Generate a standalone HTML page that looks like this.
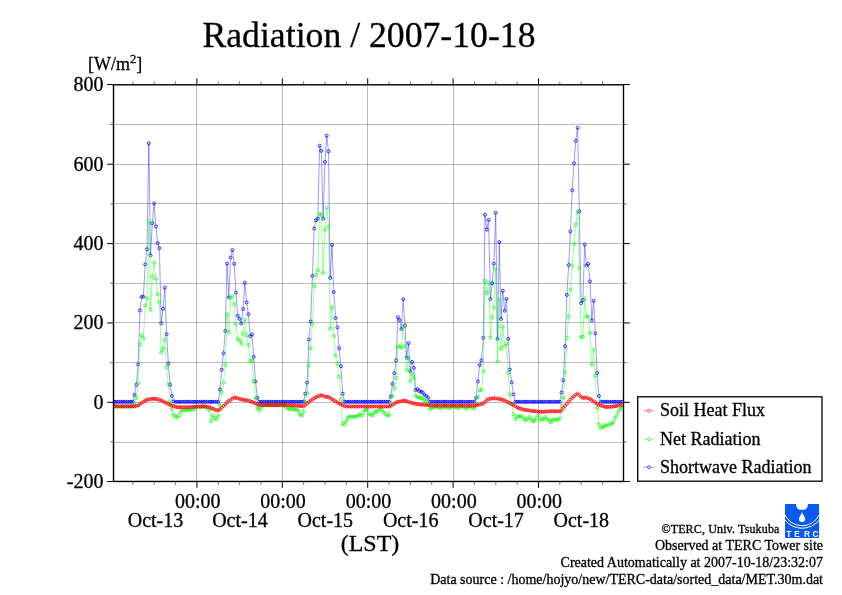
<!DOCTYPE html>
<html><head><meta charset="utf-8"><title>Radiation / 2007-10-18</title>
<style>html,body{margin:0;padding:0;background:#fff}svg{display:block}text{font-family:"Liberation Serif","Times New Roman",serif;fill:#000;stroke:#000;stroke-width:0.3px}</style></head><body>
<svg width="842" height="595" viewBox="0 0 842 595">
<rect width="842" height="595" fill="#fff"/>
<g fill="#000" fill-opacity="0.27" shape-rendering="crispEdges">
<rect x="196" y="84.8" width="1" height="396.65"/>
<rect x="282" y="84.8" width="1" height="396.65"/>
<rect x="367" y="84.8" width="1" height="396.65"/>
<rect x="453" y="84.8" width="1" height="396.65"/>
<rect x="538" y="84.8" width="1" height="396.65"/>
<rect x="113.5" y="124" width="510.0" height="1"/>
<rect x="113.5" y="164" width="510.0" height="1"/>
<rect x="113.5" y="203" width="510.0" height="1"/>
<rect x="113.5" y="243" width="510.0" height="1"/>
<rect x="113.5" y="283" width="510.0" height="1"/>
<rect x="113.5" y="322" width="510.0" height="1"/>
<rect x="113.5" y="362" width="510.0" height="1"/>
<rect x="113.5" y="402" width="510.0" height="1"/>
<rect x="113.5" y="442" width="510.0" height="1"/>
</g>
<clipPath id="pc"><rect x="113.5" y="84.8" width="510.0" height="396.65"/></clipPath><g clip-path="url(#pc)">
<g stroke="#0000ff" fill="none"><polyline points="111.4,401.8 113.2,401.8 115.0,401.8 116.7,401.8 118.5,401.8 120.3,401.8 122.1,401.8 123.9,401.8 125.6,401.8 127.4,401.8 129.2,401.8 131.0,401.8 132.8,401.8 134.5,395.0 136.3,384.8 138.1,364.4 139.9,310.5 141.6,296.8 143.4,296.8 145.2,264.4 147.0,249.3 148.8,143.2 150.5,255.2 152.3,223.2 154.1,203.4 155.9,226.5 157.7,243.2 159.4,248.1 161.2,323.4 163.0,308.8 164.8,287.6 166.6,334.2 168.3,363.4 170.1,384.6 171.9,395.9 173.7,401.3 175.5,401.8 177.2,401.8 179.0,401.8 180.8,401.8 182.6,401.8 184.3,401.8 186.1,401.8 187.9,401.8 189.7,401.8 191.5,401.8 193.2,401.8 195.0,401.8 196.8,401.8 198.6,401.8 200.4,401.8 202.1,401.8 203.9,401.8 205.7,401.8 207.5,401.8 209.3,401.8 211.0,401.8 212.8,401.8 214.6,401.8 216.4,401.8 218.2,401.8 219.9,389.5 221.7,369.7 223.5,353.2 225.3,330.9 227.0,263.5 228.8,297.5 230.6,257.5 232.4,250.0 234.2,263.8 235.9,292.5 237.7,315.6 239.5,318.9 241.3,323.6 243.1,309.0 244.8,282.7 246.6,302.4 248.4,314.2 250.2,336.1 252.0,334.4 253.7,356.8 255.5,381.5 257.3,397.9 259.1,401.8 260.9,401.8 262.6,401.8 264.4,401.8 266.2,401.8 268.0,401.8 269.7,401.8 271.5,401.8 273.3,401.8 275.1,401.8 276.9,401.8 278.6,401.8 280.4,401.8 282.2,401.8 284.0,401.8 285.8,401.8 287.5,401.8 289.3,401.8 291.1,401.8 292.9,401.8 294.7,401.8 296.4,401.8 298.2,401.8 300.0,401.8 301.8,401.8 303.6,401.8 305.3,393.7 307.1,382.6 308.9,339.6 310.7,321.5 312.4,276.1 314.2,228.5 316.0,220.2 317.8,218.6 319.6,145.7 321.3,150.9 323.1,218.6 324.9,161.9 326.7,135.6 328.5,151.3 330.2,278.0 332.0,244.9 333.8,292.1 335.6,318.0 337.4,327.4 339.1,348.3 340.9,366.2 342.7,393.7 344.5,401.8 346.3,401.8 348.0,401.8 349.8,401.8 351.6,401.8 353.4,401.8 355.2,401.8 356.9,401.8 358.7,401.8 360.5,401.8 362.3,401.8 364.0,401.8 365.8,401.8 367.6,401.8 369.4,401.8 371.2,401.8 372.9,401.8 374.7,401.8 376.5,401.8 378.3,401.8 380.1,401.8 381.8,401.8 383.6,401.8 385.4,401.8 387.2,401.8 389.0,401.8 390.7,396.5 392.5,383.8 394.3,373.2 396.1,360.3 397.9,317.3 399.6,320.1 401.4,329.0 403.2,299.2 405.0,325.5 406.7,357.7 408.5,343.1 410.3,371.3 412.1,361.9 413.9,367.8 415.6,390.2 417.4,389.0 419.2,391.0 421.0,391.8 422.8,392.5 424.5,394.9 426.3,396.0 428.1,397.7 429.9,401.8 431.7,401.8 433.4,401.8 435.2,401.8 437.0,401.8 438.8,401.8 440.6,401.8 442.3,401.8 444.1,401.8 445.9,401.8 447.7,401.8 449.4,401.8 451.2,401.8 453.0,401.8 454.8,401.8 456.6,401.8 458.3,401.8 460.1,401.8 461.9,401.8 463.7,401.8 465.5,401.8 467.2,401.8 469.0,401.8 470.8,401.8 472.6,401.8 474.4,401.8 476.1,397.7 477.9,381.5 479.7,365.0 481.5,360.3 483.3,337.7 485.0,214.8 486.8,229.6 488.6,219.8 490.4,299.2 492.1,283.2 493.9,263.6 495.7,212.7 497.5,338.9 499.3,242.1 501.0,318.9 502.8,290.7 504.6,310.7 506.4,298.9 508.2,338.9 509.9,369.5 511.7,382.4 513.5,394.4 515.3,401.8 517.1,401.8 518.8,401.8 520.6,401.8 522.4,401.8 524.2,401.8 526.0,401.8 527.7,401.8 529.5,401.8 531.3,401.8 533.1,401.8 534.8,401.8 536.6,401.8 538.4,401.8 540.2,401.8 542.0,401.8 543.7,401.8 545.5,401.8 547.3,401.8 549.1,401.8 550.9,401.8 552.6,401.8 554.4,401.8 556.2,401.8 558.0,401.8 559.8,401.8 561.5,392.5 563.3,380.3 565.1,346.2 566.9,294.9 568.7,265.0 570.4,231.5 572.2,190.4 574.0,163.3 575.8,140.8 577.6,127.8 579.3,211.3 581.1,303.2 582.9,300.1 584.7,244.5 586.4,265.5 588.2,263.9 590.0,281.3 591.8,320.3 593.6,300.8 595.3,333.3 597.1,373.2 598.9,396.0 600.7,401.8 602.5,401.8 604.2,401.8 606.0,401.8 607.8,401.8 609.6,401.8 611.4,401.8 613.1,401.8 614.9,401.8 616.7,401.8 618.5,401.8 620.3,401.8 622.0,401.8" stroke-width="0.4"/>
<g stroke-width="0.75"><circle cx="111.4" cy="401.8" r="1.5"/><circle cx="113.2" cy="401.8" r="1.5"/><circle cx="115.0" cy="401.8" r="1.5"/><circle cx="116.7" cy="401.8" r="1.5"/><circle cx="118.5" cy="401.8" r="1.5"/><circle cx="120.3" cy="401.8" r="1.5"/><circle cx="122.1" cy="401.8" r="1.5"/><circle cx="123.9" cy="401.8" r="1.5"/><circle cx="125.6" cy="401.8" r="1.5"/><circle cx="127.4" cy="401.8" r="1.5"/><circle cx="129.2" cy="401.8" r="1.5"/><circle cx="131.0" cy="401.8" r="1.5"/><circle cx="132.8" cy="401.8" r="1.5"/><circle cx="134.5" cy="395.0" r="1.5"/><circle cx="136.3" cy="384.8" r="1.5"/><circle cx="138.1" cy="364.4" r="1.5"/><circle cx="139.9" cy="310.5" r="1.5"/><circle cx="141.6" cy="296.8" r="1.5"/><circle cx="143.4" cy="296.8" r="1.5"/><circle cx="145.2" cy="264.4" r="1.5"/><circle cx="147.0" cy="249.3" r="1.5"/><circle cx="148.8" cy="143.2" r="1.5"/><circle cx="150.5" cy="255.2" r="1.5"/><circle cx="152.3" cy="223.2" r="1.5"/><circle cx="154.1" cy="203.4" r="1.5"/><circle cx="155.9" cy="226.5" r="1.5"/><circle cx="157.7" cy="243.2" r="1.5"/><circle cx="159.4" cy="248.1" r="1.5"/><circle cx="161.2" cy="323.4" r="1.5"/><circle cx="163.0" cy="308.8" r="1.5"/><circle cx="164.8" cy="287.6" r="1.5"/><circle cx="166.6" cy="334.2" r="1.5"/><circle cx="168.3" cy="363.4" r="1.5"/><circle cx="170.1" cy="384.6" r="1.5"/><circle cx="171.9" cy="395.9" r="1.5"/><circle cx="173.7" cy="401.3" r="1.5"/><circle cx="175.5" cy="401.8" r="1.5"/><circle cx="177.2" cy="401.8" r="1.5"/><circle cx="179.0" cy="401.8" r="1.5"/><circle cx="180.8" cy="401.8" r="1.5"/><circle cx="182.6" cy="401.8" r="1.5"/><circle cx="184.3" cy="401.8" r="1.5"/><circle cx="186.1" cy="401.8" r="1.5"/><circle cx="187.9" cy="401.8" r="1.5"/><circle cx="189.7" cy="401.8" r="1.5"/><circle cx="191.5" cy="401.8" r="1.5"/><circle cx="193.2" cy="401.8" r="1.5"/><circle cx="195.0" cy="401.8" r="1.5"/><circle cx="196.8" cy="401.8" r="1.5"/><circle cx="198.6" cy="401.8" r="1.5"/><circle cx="200.4" cy="401.8" r="1.5"/><circle cx="202.1" cy="401.8" r="1.5"/><circle cx="203.9" cy="401.8" r="1.5"/><circle cx="205.7" cy="401.8" r="1.5"/><circle cx="207.5" cy="401.8" r="1.5"/><circle cx="209.3" cy="401.8" r="1.5"/><circle cx="211.0" cy="401.8" r="1.5"/><circle cx="212.8" cy="401.8" r="1.5"/><circle cx="214.6" cy="401.8" r="1.5"/><circle cx="216.4" cy="401.8" r="1.5"/><circle cx="218.2" cy="401.8" r="1.5"/><circle cx="219.9" cy="389.5" r="1.5"/><circle cx="221.7" cy="369.7" r="1.5"/><circle cx="223.5" cy="353.2" r="1.5"/><circle cx="225.3" cy="330.9" r="1.5"/><circle cx="227.0" cy="263.5" r="1.5"/><circle cx="228.8" cy="297.5" r="1.5"/><circle cx="230.6" cy="257.5" r="1.5"/><circle cx="232.4" cy="250.0" r="1.5"/><circle cx="234.2" cy="263.8" r="1.5"/><circle cx="235.9" cy="292.5" r="1.5"/><circle cx="237.7" cy="315.6" r="1.5"/><circle cx="239.5" cy="318.9" r="1.5"/><circle cx="241.3" cy="323.6" r="1.5"/><circle cx="243.1" cy="309.0" r="1.5"/><circle cx="244.8" cy="282.7" r="1.5"/><circle cx="246.6" cy="302.4" r="1.5"/><circle cx="248.4" cy="314.2" r="1.5"/><circle cx="250.2" cy="336.1" r="1.5"/><circle cx="252.0" cy="334.4" r="1.5"/><circle cx="253.7" cy="356.8" r="1.5"/><circle cx="255.5" cy="381.5" r="1.5"/><circle cx="257.3" cy="397.9" r="1.5"/><circle cx="259.1" cy="401.8" r="1.5"/><circle cx="260.9" cy="401.8" r="1.5"/><circle cx="262.6" cy="401.8" r="1.5"/><circle cx="264.4" cy="401.8" r="1.5"/><circle cx="266.2" cy="401.8" r="1.5"/><circle cx="268.0" cy="401.8" r="1.5"/><circle cx="269.7" cy="401.8" r="1.5"/><circle cx="271.5" cy="401.8" r="1.5"/><circle cx="273.3" cy="401.8" r="1.5"/><circle cx="275.1" cy="401.8" r="1.5"/><circle cx="276.9" cy="401.8" r="1.5"/><circle cx="278.6" cy="401.8" r="1.5"/><circle cx="280.4" cy="401.8" r="1.5"/><circle cx="282.2" cy="401.8" r="1.5"/><circle cx="284.0" cy="401.8" r="1.5"/><circle cx="285.8" cy="401.8" r="1.5"/><circle cx="287.5" cy="401.8" r="1.5"/><circle cx="289.3" cy="401.8" r="1.5"/><circle cx="291.1" cy="401.8" r="1.5"/><circle cx="292.9" cy="401.8" r="1.5"/><circle cx="294.7" cy="401.8" r="1.5"/><circle cx="296.4" cy="401.8" r="1.5"/><circle cx="298.2" cy="401.8" r="1.5"/><circle cx="300.0" cy="401.8" r="1.5"/><circle cx="301.8" cy="401.8" r="1.5"/><circle cx="303.6" cy="401.8" r="1.5"/><circle cx="305.3" cy="393.7" r="1.5"/><circle cx="307.1" cy="382.6" r="1.5"/><circle cx="308.9" cy="339.6" r="1.5"/><circle cx="310.7" cy="321.5" r="1.5"/><circle cx="312.4" cy="276.1" r="1.5"/><circle cx="314.2" cy="228.5" r="1.5"/><circle cx="316.0" cy="220.2" r="1.5"/><circle cx="317.8" cy="218.6" r="1.5"/><circle cx="319.6" cy="145.7" r="1.5"/><circle cx="321.3" cy="150.9" r="1.5"/><circle cx="323.1" cy="218.6" r="1.5"/><circle cx="324.9" cy="161.9" r="1.5"/><circle cx="326.7" cy="135.6" r="1.5"/><circle cx="328.5" cy="151.3" r="1.5"/><circle cx="330.2" cy="278.0" r="1.5"/><circle cx="332.0" cy="244.9" r="1.5"/><circle cx="333.8" cy="292.1" r="1.5"/><circle cx="335.6" cy="318.0" r="1.5"/><circle cx="337.4" cy="327.4" r="1.5"/><circle cx="339.1" cy="348.3" r="1.5"/><circle cx="340.9" cy="366.2" r="1.5"/><circle cx="342.7" cy="393.7" r="1.5"/><circle cx="344.5" cy="401.8" r="1.5"/><circle cx="346.3" cy="401.8" r="1.5"/><circle cx="348.0" cy="401.8" r="1.5"/><circle cx="349.8" cy="401.8" r="1.5"/><circle cx="351.6" cy="401.8" r="1.5"/><circle cx="353.4" cy="401.8" r="1.5"/><circle cx="355.2" cy="401.8" r="1.5"/><circle cx="356.9" cy="401.8" r="1.5"/><circle cx="358.7" cy="401.8" r="1.5"/><circle cx="360.5" cy="401.8" r="1.5"/><circle cx="362.3" cy="401.8" r="1.5"/><circle cx="364.0" cy="401.8" r="1.5"/><circle cx="365.8" cy="401.8" r="1.5"/><circle cx="367.6" cy="401.8" r="1.5"/><circle cx="369.4" cy="401.8" r="1.5"/><circle cx="371.2" cy="401.8" r="1.5"/><circle cx="372.9" cy="401.8" r="1.5"/><circle cx="374.7" cy="401.8" r="1.5"/><circle cx="376.5" cy="401.8" r="1.5"/><circle cx="378.3" cy="401.8" r="1.5"/><circle cx="380.1" cy="401.8" r="1.5"/><circle cx="381.8" cy="401.8" r="1.5"/><circle cx="383.6" cy="401.8" r="1.5"/><circle cx="385.4" cy="401.8" r="1.5"/><circle cx="387.2" cy="401.8" r="1.5"/><circle cx="389.0" cy="401.8" r="1.5"/><circle cx="390.7" cy="396.5" r="1.5"/><circle cx="392.5" cy="383.8" r="1.5"/><circle cx="394.3" cy="373.2" r="1.5"/><circle cx="396.1" cy="360.3" r="1.5"/><circle cx="397.9" cy="317.3" r="1.5"/><circle cx="399.6" cy="320.1" r="1.5"/><circle cx="401.4" cy="329.0" r="1.5"/><circle cx="403.2" cy="299.2" r="1.5"/><circle cx="405.0" cy="325.5" r="1.5"/><circle cx="406.7" cy="357.7" r="1.5"/><circle cx="408.5" cy="343.1" r="1.5"/><circle cx="410.3" cy="371.3" r="1.5"/><circle cx="412.1" cy="361.9" r="1.5"/><circle cx="413.9" cy="367.8" r="1.5"/><circle cx="415.6" cy="390.2" r="1.5"/><circle cx="417.4" cy="389.0" r="1.5"/><circle cx="419.2" cy="391.0" r="1.5"/><circle cx="421.0" cy="391.8" r="1.5"/><circle cx="422.8" cy="392.5" r="1.5"/><circle cx="424.5" cy="394.9" r="1.5"/><circle cx="426.3" cy="396.0" r="1.5"/><circle cx="428.1" cy="397.7" r="1.5"/><circle cx="429.9" cy="401.8" r="1.5"/><circle cx="431.7" cy="401.8" r="1.5"/><circle cx="433.4" cy="401.8" r="1.5"/><circle cx="435.2" cy="401.8" r="1.5"/><circle cx="437.0" cy="401.8" r="1.5"/><circle cx="438.8" cy="401.8" r="1.5"/><circle cx="440.6" cy="401.8" r="1.5"/><circle cx="442.3" cy="401.8" r="1.5"/><circle cx="444.1" cy="401.8" r="1.5"/><circle cx="445.9" cy="401.8" r="1.5"/><circle cx="447.7" cy="401.8" r="1.5"/><circle cx="449.4" cy="401.8" r="1.5"/><circle cx="451.2" cy="401.8" r="1.5"/><circle cx="453.0" cy="401.8" r="1.5"/><circle cx="454.8" cy="401.8" r="1.5"/><circle cx="456.6" cy="401.8" r="1.5"/><circle cx="458.3" cy="401.8" r="1.5"/><circle cx="460.1" cy="401.8" r="1.5"/><circle cx="461.9" cy="401.8" r="1.5"/><circle cx="463.7" cy="401.8" r="1.5"/><circle cx="465.5" cy="401.8" r="1.5"/><circle cx="467.2" cy="401.8" r="1.5"/><circle cx="469.0" cy="401.8" r="1.5"/><circle cx="470.8" cy="401.8" r="1.5"/><circle cx="472.6" cy="401.8" r="1.5"/><circle cx="474.4" cy="401.8" r="1.5"/><circle cx="476.1" cy="397.7" r="1.5"/><circle cx="477.9" cy="381.5" r="1.5"/><circle cx="479.7" cy="365.0" r="1.5"/><circle cx="481.5" cy="360.3" r="1.5"/><circle cx="483.3" cy="337.7" r="1.5"/><circle cx="485.0" cy="214.8" r="1.5"/><circle cx="486.8" cy="229.6" r="1.5"/><circle cx="488.6" cy="219.8" r="1.5"/><circle cx="490.4" cy="299.2" r="1.5"/><circle cx="492.1" cy="283.2" r="1.5"/><circle cx="493.9" cy="263.6" r="1.5"/><circle cx="495.7" cy="212.7" r="1.5"/><circle cx="497.5" cy="338.9" r="1.5"/><circle cx="499.3" cy="242.1" r="1.5"/><circle cx="501.0" cy="318.9" r="1.5"/><circle cx="502.8" cy="290.7" r="1.5"/><circle cx="504.6" cy="310.7" r="1.5"/><circle cx="506.4" cy="298.9" r="1.5"/><circle cx="508.2" cy="338.9" r="1.5"/><circle cx="509.9" cy="369.5" r="1.5"/><circle cx="511.7" cy="382.4" r="1.5"/><circle cx="513.5" cy="394.4" r="1.5"/><circle cx="515.3" cy="401.8" r="1.5"/><circle cx="517.1" cy="401.8" r="1.5"/><circle cx="518.8" cy="401.8" r="1.5"/><circle cx="520.6" cy="401.8" r="1.5"/><circle cx="522.4" cy="401.8" r="1.5"/><circle cx="524.2" cy="401.8" r="1.5"/><circle cx="526.0" cy="401.8" r="1.5"/><circle cx="527.7" cy="401.8" r="1.5"/><circle cx="529.5" cy="401.8" r="1.5"/><circle cx="531.3" cy="401.8" r="1.5"/><circle cx="533.1" cy="401.8" r="1.5"/><circle cx="534.8" cy="401.8" r="1.5"/><circle cx="536.6" cy="401.8" r="1.5"/><circle cx="538.4" cy="401.8" r="1.5"/><circle cx="540.2" cy="401.8" r="1.5"/><circle cx="542.0" cy="401.8" r="1.5"/><circle cx="543.7" cy="401.8" r="1.5"/><circle cx="545.5" cy="401.8" r="1.5"/><circle cx="547.3" cy="401.8" r="1.5"/><circle cx="549.1" cy="401.8" r="1.5"/><circle cx="550.9" cy="401.8" r="1.5"/><circle cx="552.6" cy="401.8" r="1.5"/><circle cx="554.4" cy="401.8" r="1.5"/><circle cx="556.2" cy="401.8" r="1.5"/><circle cx="558.0" cy="401.8" r="1.5"/><circle cx="559.8" cy="401.8" r="1.5"/><circle cx="561.5" cy="392.5" r="1.5"/><circle cx="563.3" cy="380.3" r="1.5"/><circle cx="565.1" cy="346.2" r="1.5"/><circle cx="566.9" cy="294.9" r="1.5"/><circle cx="568.7" cy="265.0" r="1.5"/><circle cx="570.4" cy="231.5" r="1.5"/><circle cx="572.2" cy="190.4" r="1.5"/><circle cx="574.0" cy="163.3" r="1.5"/><circle cx="575.8" cy="140.8" r="1.5"/><circle cx="577.6" cy="127.8" r="1.5"/><circle cx="579.3" cy="211.3" r="1.5"/><circle cx="581.1" cy="303.2" r="1.5"/><circle cx="582.9" cy="300.1" r="1.5"/><circle cx="584.7" cy="244.5" r="1.5"/><circle cx="586.4" cy="265.5" r="1.5"/><circle cx="588.2" cy="263.9" r="1.5"/><circle cx="590.0" cy="281.3" r="1.5"/><circle cx="591.8" cy="320.3" r="1.5"/><circle cx="593.6" cy="300.8" r="1.5"/><circle cx="595.3" cy="333.3" r="1.5"/><circle cx="597.1" cy="373.2" r="1.5"/><circle cx="598.9" cy="396.0" r="1.5"/><circle cx="600.7" cy="401.8" r="1.5"/><circle cx="602.5" cy="401.8" r="1.5"/><circle cx="604.2" cy="401.8" r="1.5"/><circle cx="606.0" cy="401.8" r="1.5"/><circle cx="607.8" cy="401.8" r="1.5"/><circle cx="609.6" cy="401.8" r="1.5"/><circle cx="611.4" cy="401.8" r="1.5"/><circle cx="613.1" cy="401.8" r="1.5"/><circle cx="614.9" cy="401.8" r="1.5"/><circle cx="616.7" cy="401.8" r="1.5"/><circle cx="618.5" cy="401.8" r="1.5"/><circle cx="620.3" cy="401.8" r="1.5"/><circle cx="622.0" cy="401.8" r="1.5"/></g></g>
<g stroke="#00ff00" fill="none"><polyline points="111.4,406.6 113.2,406.6 115.0,406.6 116.7,406.6 118.5,406.6 120.3,406.6 122.1,406.6 123.9,406.6 125.6,406.6 127.4,406.6 129.2,406.6 131.0,406.6 132.8,406.6 134.5,404.0 136.3,397.8 138.1,383.2 139.9,344.4 141.6,335.2 143.4,338.7 145.2,305.3 147.0,298.5 148.8,221.3 150.5,309.5 152.3,276.6 154.1,262.5 155.9,278.9 157.7,294.2 159.4,302.0 161.2,352.4 163.0,348.8 164.8,339.6 166.6,367.2 168.3,384.6 170.1,401.3 171.9,409.0 173.7,415.0 175.5,416.7 177.2,417.5 179.0,415.3 180.8,411.3 182.6,410.3 184.3,410.2 186.1,410.0 187.9,409.9 189.7,409.8 191.5,409.7 193.2,409.6 195.0,408.0 196.8,406.8 198.6,406.8 200.4,406.8 202.1,406.8 203.9,406.8 205.7,406.8 207.5,408.0 209.3,410.0 211.0,421.3 212.8,415.3 214.6,418.5 216.4,419.2 218.2,416.3 219.9,405.0 221.7,392.5 223.5,382.6 225.3,365.0 227.0,314.2 228.8,332.1 230.6,297.7 232.4,296.1 234.2,304.3 235.9,323.8 237.7,339.1 239.5,340.3 241.3,343.8 243.1,333.3 244.8,319.6 246.6,335.4 248.4,344.8 250.2,360.8 252.0,360.8 253.7,381.2 255.5,398.4 257.3,408.0 259.1,410.7 260.9,408.0 262.6,405.3 264.4,405.3 266.2,405.3 268.0,405.3 269.7,405.3 271.5,405.3 273.3,405.3 275.1,405.3 276.9,405.3 278.6,405.3 280.4,405.3 282.2,405.3 284.0,405.3 285.8,407.0 287.5,408.5 289.3,409.0 291.1,409.0 292.9,408.8 294.7,409.2 296.4,409.5 298.2,411.0 300.0,414.5 301.8,415.6 303.6,411.8 305.3,402.0 307.1,393.2 308.9,365.5 310.7,348.3 312.4,324.3 314.2,286.0 316.0,274.9 317.8,270.2 319.6,213.7 321.3,214.8 323.1,273.0 324.9,229.6 326.7,207.8 328.5,226.6 330.2,328.5 332.0,307.1 333.8,336.1 335.6,355.4 337.4,364.3 339.1,376.8 340.9,399.6 342.7,423.4 344.5,424.9 346.3,421.0 348.0,417.7 349.8,416.3 351.6,416.5 353.4,416.8 355.2,416.6 356.9,416.2 358.7,415.6 360.5,414.2 362.3,415.3 364.0,411.0 365.8,409.9 367.6,409.2 369.4,414.2 371.2,414.5 372.9,415.3 374.7,412.0 376.5,411.3 378.3,411.0 380.1,407.8 381.8,409.6 383.6,412.0 385.4,414.0 387.2,415.9 389.0,414.9 390.7,404.0 392.5,396.0 394.3,387.8 396.1,377.9 397.9,346.7 399.6,346.2 401.4,347.8 403.2,326.0 405.0,346.0 406.7,370.2 408.5,358.0 410.3,381.2 412.1,373.7 413.9,377.9 415.6,396.0 417.4,397.0 419.2,397.5 421.0,398.0 422.8,398.5 424.5,400.0 426.3,401.0 428.1,404.0 429.9,409.3 431.7,408.0 433.4,407.5 435.2,406.5 437.0,406.5 438.8,407.6 440.6,408.5 442.3,407.3 444.1,406.4 445.9,406.7 447.7,407.7 449.4,408.0 451.2,407.1 453.0,406.3 454.8,406.8 456.6,407.9 458.3,407.9 460.1,406.9 461.9,406.3 463.7,407.0 465.5,408.8 467.2,407.8 469.0,406.7 470.8,406.3 472.6,408.5 474.4,408.1 476.1,404.0 477.9,397.2 479.7,390.2 481.5,389.7 483.3,371.3 485.0,280.8 486.8,293.0 488.6,282.7 490.4,337.7 492.1,317.3 493.9,307.4 495.7,268.6 497.5,361.5 499.3,299.2 501.0,349.0 502.8,326.7 504.6,346.2 506.4,343.6 508.2,373.0 509.9,394.4 511.7,404.3 513.5,414.3 515.3,419.2 517.1,417.0 518.8,416.3 520.6,416.0 522.4,417.0 524.2,419.2 526.0,420.2 527.7,418.5 529.5,417.0 531.3,419.6 533.1,421.0 534.8,420.6 536.6,417.7 538.4,415.3 540.2,419.9 542.0,419.2 543.7,418.5 545.5,417.0 547.3,419.2 549.1,420.2 550.9,422.4 552.6,419.9 554.4,419.6 556.2,419.9 558.0,419.6 559.8,418.5 561.5,406.0 563.3,397.9 565.1,372.5 566.9,337.7 568.7,316.6 570.4,289.7 572.2,265.5 574.0,244.2 575.8,224.5 577.6,212.0 579.3,267.9 581.1,337.2 582.9,336.8 584.7,298.4 586.4,316.6 588.2,316.6 590.0,333.0 591.8,364.8 593.6,349.5 595.3,375.6 597.1,407.9 598.9,424.3 600.7,428.2 602.5,427.0 604.2,426.3 606.0,425.0 607.8,425.6 609.6,424.2 611.4,423.4 613.1,422.7 614.9,418.5 616.7,415.6 618.5,411.5 620.3,408.5 622.0,408.5" stroke-width="0.4"/>
<g stroke-width="0.75"><circle cx="111.4" cy="406.6" r="1.5"/><circle cx="113.2" cy="406.6" r="1.5"/><circle cx="115.0" cy="406.6" r="1.5"/><circle cx="116.7" cy="406.6" r="1.5"/><circle cx="118.5" cy="406.6" r="1.5"/><circle cx="120.3" cy="406.6" r="1.5"/><circle cx="122.1" cy="406.6" r="1.5"/><circle cx="123.9" cy="406.6" r="1.5"/><circle cx="125.6" cy="406.6" r="1.5"/><circle cx="127.4" cy="406.6" r="1.5"/><circle cx="129.2" cy="406.6" r="1.5"/><circle cx="131.0" cy="406.6" r="1.5"/><circle cx="132.8" cy="406.6" r="1.5"/><circle cx="134.5" cy="404.0" r="1.5"/><circle cx="136.3" cy="397.8" r="1.5"/><circle cx="138.1" cy="383.2" r="1.5"/><circle cx="139.9" cy="344.4" r="1.5"/><circle cx="141.6" cy="335.2" r="1.5"/><circle cx="143.4" cy="338.7" r="1.5"/><circle cx="145.2" cy="305.3" r="1.5"/><circle cx="147.0" cy="298.5" r="1.5"/><circle cx="148.8" cy="221.3" r="1.5"/><circle cx="150.5" cy="309.5" r="1.5"/><circle cx="152.3" cy="276.6" r="1.5"/><circle cx="154.1" cy="262.5" r="1.5"/><circle cx="155.9" cy="278.9" r="1.5"/><circle cx="157.7" cy="294.2" r="1.5"/><circle cx="159.4" cy="302.0" r="1.5"/><circle cx="161.2" cy="352.4" r="1.5"/><circle cx="163.0" cy="348.8" r="1.5"/><circle cx="164.8" cy="339.6" r="1.5"/><circle cx="166.6" cy="367.2" r="1.5"/><circle cx="168.3" cy="384.6" r="1.5"/><circle cx="170.1" cy="401.3" r="1.5"/><circle cx="171.9" cy="409.0" r="1.5"/><circle cx="173.7" cy="415.0" r="1.5"/><circle cx="175.5" cy="416.7" r="1.5"/><circle cx="177.2" cy="417.5" r="1.5"/><circle cx="179.0" cy="415.3" r="1.5"/><circle cx="180.8" cy="411.3" r="1.5"/><circle cx="182.6" cy="410.3" r="1.5"/><circle cx="184.3" cy="410.2" r="1.5"/><circle cx="186.1" cy="410.0" r="1.5"/><circle cx="187.9" cy="409.9" r="1.5"/><circle cx="189.7" cy="409.8" r="1.5"/><circle cx="191.5" cy="409.7" r="1.5"/><circle cx="193.2" cy="409.6" r="1.5"/><circle cx="195.0" cy="408.0" r="1.5"/><circle cx="196.8" cy="406.8" r="1.5"/><circle cx="198.6" cy="406.8" r="1.5"/><circle cx="200.4" cy="406.8" r="1.5"/><circle cx="202.1" cy="406.8" r="1.5"/><circle cx="203.9" cy="406.8" r="1.5"/><circle cx="205.7" cy="406.8" r="1.5"/><circle cx="207.5" cy="408.0" r="1.5"/><circle cx="209.3" cy="410.0" r="1.5"/><circle cx="211.0" cy="421.3" r="1.5"/><circle cx="212.8" cy="415.3" r="1.5"/><circle cx="214.6" cy="418.5" r="1.5"/><circle cx="216.4" cy="419.2" r="1.5"/><circle cx="218.2" cy="416.3" r="1.5"/><circle cx="219.9" cy="405.0" r="1.5"/><circle cx="221.7" cy="392.5" r="1.5"/><circle cx="223.5" cy="382.6" r="1.5"/><circle cx="225.3" cy="365.0" r="1.5"/><circle cx="227.0" cy="314.2" r="1.5"/><circle cx="228.8" cy="332.1" r="1.5"/><circle cx="230.6" cy="297.7" r="1.5"/><circle cx="232.4" cy="296.1" r="1.5"/><circle cx="234.2" cy="304.3" r="1.5"/><circle cx="235.9" cy="323.8" r="1.5"/><circle cx="237.7" cy="339.1" r="1.5"/><circle cx="239.5" cy="340.3" r="1.5"/><circle cx="241.3" cy="343.8" r="1.5"/><circle cx="243.1" cy="333.3" r="1.5"/><circle cx="244.8" cy="319.6" r="1.5"/><circle cx="246.6" cy="335.4" r="1.5"/><circle cx="248.4" cy="344.8" r="1.5"/><circle cx="250.2" cy="360.8" r="1.5"/><circle cx="252.0" cy="360.8" r="1.5"/><circle cx="253.7" cy="381.2" r="1.5"/><circle cx="255.5" cy="398.4" r="1.5"/><circle cx="257.3" cy="408.0" r="1.5"/><circle cx="259.1" cy="410.7" r="1.5"/><circle cx="260.9" cy="408.0" r="1.5"/><circle cx="262.6" cy="405.3" r="1.5"/><circle cx="264.4" cy="405.3" r="1.5"/><circle cx="266.2" cy="405.3" r="1.5"/><circle cx="268.0" cy="405.3" r="1.5"/><circle cx="269.7" cy="405.3" r="1.5"/><circle cx="271.5" cy="405.3" r="1.5"/><circle cx="273.3" cy="405.3" r="1.5"/><circle cx="275.1" cy="405.3" r="1.5"/><circle cx="276.9" cy="405.3" r="1.5"/><circle cx="278.6" cy="405.3" r="1.5"/><circle cx="280.4" cy="405.3" r="1.5"/><circle cx="282.2" cy="405.3" r="1.5"/><circle cx="284.0" cy="405.3" r="1.5"/><circle cx="285.8" cy="407.0" r="1.5"/><circle cx="287.5" cy="408.5" r="1.5"/><circle cx="289.3" cy="409.0" r="1.5"/><circle cx="291.1" cy="409.0" r="1.5"/><circle cx="292.9" cy="408.8" r="1.5"/><circle cx="294.7" cy="409.2" r="1.5"/><circle cx="296.4" cy="409.5" r="1.5"/><circle cx="298.2" cy="411.0" r="1.5"/><circle cx="300.0" cy="414.5" r="1.5"/><circle cx="301.8" cy="415.6" r="1.5"/><circle cx="303.6" cy="411.8" r="1.5"/><circle cx="305.3" cy="402.0" r="1.5"/><circle cx="307.1" cy="393.2" r="1.5"/><circle cx="308.9" cy="365.5" r="1.5"/><circle cx="310.7" cy="348.3" r="1.5"/><circle cx="312.4" cy="324.3" r="1.5"/><circle cx="314.2" cy="286.0" r="1.5"/><circle cx="316.0" cy="274.9" r="1.5"/><circle cx="317.8" cy="270.2" r="1.5"/><circle cx="319.6" cy="213.7" r="1.5"/><circle cx="321.3" cy="214.8" r="1.5"/><circle cx="323.1" cy="273.0" r="1.5"/><circle cx="324.9" cy="229.6" r="1.5"/><circle cx="326.7" cy="207.8" r="1.5"/><circle cx="328.5" cy="226.6" r="1.5"/><circle cx="330.2" cy="328.5" r="1.5"/><circle cx="332.0" cy="307.1" r="1.5"/><circle cx="333.8" cy="336.1" r="1.5"/><circle cx="335.6" cy="355.4" r="1.5"/><circle cx="337.4" cy="364.3" r="1.5"/><circle cx="339.1" cy="376.8" r="1.5"/><circle cx="340.9" cy="399.6" r="1.5"/><circle cx="342.7" cy="423.4" r="1.5"/><circle cx="344.5" cy="424.9" r="1.5"/><circle cx="346.3" cy="421.0" r="1.5"/><circle cx="348.0" cy="417.7" r="1.5"/><circle cx="349.8" cy="416.3" r="1.5"/><circle cx="351.6" cy="416.5" r="1.5"/><circle cx="353.4" cy="416.8" r="1.5"/><circle cx="355.2" cy="416.6" r="1.5"/><circle cx="356.9" cy="416.2" r="1.5"/><circle cx="358.7" cy="415.6" r="1.5"/><circle cx="360.5" cy="414.2" r="1.5"/><circle cx="362.3" cy="415.3" r="1.5"/><circle cx="364.0" cy="411.0" r="1.5"/><circle cx="365.8" cy="409.9" r="1.5"/><circle cx="367.6" cy="409.2" r="1.5"/><circle cx="369.4" cy="414.2" r="1.5"/><circle cx="371.2" cy="414.5" r="1.5"/><circle cx="372.9" cy="415.3" r="1.5"/><circle cx="374.7" cy="412.0" r="1.5"/><circle cx="376.5" cy="411.3" r="1.5"/><circle cx="378.3" cy="411.0" r="1.5"/><circle cx="380.1" cy="407.8" r="1.5"/><circle cx="381.8" cy="409.6" r="1.5"/><circle cx="383.6" cy="412.0" r="1.5"/><circle cx="385.4" cy="414.0" r="1.5"/><circle cx="387.2" cy="415.9" r="1.5"/><circle cx="389.0" cy="414.9" r="1.5"/><circle cx="390.7" cy="404.0" r="1.5"/><circle cx="392.5" cy="396.0" r="1.5"/><circle cx="394.3" cy="387.8" r="1.5"/><circle cx="396.1" cy="377.9" r="1.5"/><circle cx="397.9" cy="346.7" r="1.5"/><circle cx="399.6" cy="346.2" r="1.5"/><circle cx="401.4" cy="347.8" r="1.5"/><circle cx="403.2" cy="326.0" r="1.5"/><circle cx="405.0" cy="346.0" r="1.5"/><circle cx="406.7" cy="370.2" r="1.5"/><circle cx="408.5" cy="358.0" r="1.5"/><circle cx="410.3" cy="381.2" r="1.5"/><circle cx="412.1" cy="373.7" r="1.5"/><circle cx="413.9" cy="377.9" r="1.5"/><circle cx="415.6" cy="396.0" r="1.5"/><circle cx="417.4" cy="397.0" r="1.5"/><circle cx="419.2" cy="397.5" r="1.5"/><circle cx="421.0" cy="398.0" r="1.5"/><circle cx="422.8" cy="398.5" r="1.5"/><circle cx="424.5" cy="400.0" r="1.5"/><circle cx="426.3" cy="401.0" r="1.5"/><circle cx="428.1" cy="404.0" r="1.5"/><circle cx="429.9" cy="409.3" r="1.5"/><circle cx="431.7" cy="408.0" r="1.5"/><circle cx="433.4" cy="407.5" r="1.5"/><circle cx="435.2" cy="406.5" r="1.5"/><circle cx="437.0" cy="406.5" r="1.5"/><circle cx="438.8" cy="407.6" r="1.5"/><circle cx="440.6" cy="408.5" r="1.5"/><circle cx="442.3" cy="407.3" r="1.5"/><circle cx="444.1" cy="406.4" r="1.5"/><circle cx="445.9" cy="406.7" r="1.5"/><circle cx="447.7" cy="407.7" r="1.5"/><circle cx="449.4" cy="408.0" r="1.5"/><circle cx="451.2" cy="407.1" r="1.5"/><circle cx="453.0" cy="406.3" r="1.5"/><circle cx="454.8" cy="406.8" r="1.5"/><circle cx="456.6" cy="407.9" r="1.5"/><circle cx="458.3" cy="407.9" r="1.5"/><circle cx="460.1" cy="406.9" r="1.5"/><circle cx="461.9" cy="406.3" r="1.5"/><circle cx="463.7" cy="407.0" r="1.5"/><circle cx="465.5" cy="408.8" r="1.5"/><circle cx="467.2" cy="407.8" r="1.5"/><circle cx="469.0" cy="406.7" r="1.5"/><circle cx="470.8" cy="406.3" r="1.5"/><circle cx="472.6" cy="408.5" r="1.5"/><circle cx="474.4" cy="408.1" r="1.5"/><circle cx="476.1" cy="404.0" r="1.5"/><circle cx="477.9" cy="397.2" r="1.5"/><circle cx="479.7" cy="390.2" r="1.5"/><circle cx="481.5" cy="389.7" r="1.5"/><circle cx="483.3" cy="371.3" r="1.5"/><circle cx="485.0" cy="280.8" r="1.5"/><circle cx="486.8" cy="293.0" r="1.5"/><circle cx="488.6" cy="282.7" r="1.5"/><circle cx="490.4" cy="337.7" r="1.5"/><circle cx="492.1" cy="317.3" r="1.5"/><circle cx="493.9" cy="307.4" r="1.5"/><circle cx="495.7" cy="268.6" r="1.5"/><circle cx="497.5" cy="361.5" r="1.5"/><circle cx="499.3" cy="299.2" r="1.5"/><circle cx="501.0" cy="349.0" r="1.5"/><circle cx="502.8" cy="326.7" r="1.5"/><circle cx="504.6" cy="346.2" r="1.5"/><circle cx="506.4" cy="343.6" r="1.5"/><circle cx="508.2" cy="373.0" r="1.5"/><circle cx="509.9" cy="394.4" r="1.5"/><circle cx="511.7" cy="404.3" r="1.5"/><circle cx="513.5" cy="414.3" r="1.5"/><circle cx="515.3" cy="419.2" r="1.5"/><circle cx="517.1" cy="417.0" r="1.5"/><circle cx="518.8" cy="416.3" r="1.5"/><circle cx="520.6" cy="416.0" r="1.5"/><circle cx="522.4" cy="417.0" r="1.5"/><circle cx="524.2" cy="419.2" r="1.5"/><circle cx="526.0" cy="420.2" r="1.5"/><circle cx="527.7" cy="418.5" r="1.5"/><circle cx="529.5" cy="417.0" r="1.5"/><circle cx="531.3" cy="419.6" r="1.5"/><circle cx="533.1" cy="421.0" r="1.5"/><circle cx="534.8" cy="420.6" r="1.5"/><circle cx="536.6" cy="417.7" r="1.5"/><circle cx="538.4" cy="415.3" r="1.5"/><circle cx="540.2" cy="419.9" r="1.5"/><circle cx="542.0" cy="419.2" r="1.5"/><circle cx="543.7" cy="418.5" r="1.5"/><circle cx="545.5" cy="417.0" r="1.5"/><circle cx="547.3" cy="419.2" r="1.5"/><circle cx="549.1" cy="420.2" r="1.5"/><circle cx="550.9" cy="422.4" r="1.5"/><circle cx="552.6" cy="419.9" r="1.5"/><circle cx="554.4" cy="419.6" r="1.5"/><circle cx="556.2" cy="419.9" r="1.5"/><circle cx="558.0" cy="419.6" r="1.5"/><circle cx="559.8" cy="418.5" r="1.5"/><circle cx="561.5" cy="406.0" r="1.5"/><circle cx="563.3" cy="397.9" r="1.5"/><circle cx="565.1" cy="372.5" r="1.5"/><circle cx="566.9" cy="337.7" r="1.5"/><circle cx="568.7" cy="316.6" r="1.5"/><circle cx="570.4" cy="289.7" r="1.5"/><circle cx="572.2" cy="265.5" r="1.5"/><circle cx="574.0" cy="244.2" r="1.5"/><circle cx="575.8" cy="224.5" r="1.5"/><circle cx="577.6" cy="212.0" r="1.5"/><circle cx="579.3" cy="267.9" r="1.5"/><circle cx="581.1" cy="337.2" r="1.5"/><circle cx="582.9" cy="336.8" r="1.5"/><circle cx="584.7" cy="298.4" r="1.5"/><circle cx="586.4" cy="316.6" r="1.5"/><circle cx="588.2" cy="316.6" r="1.5"/><circle cx="590.0" cy="333.0" r="1.5"/><circle cx="591.8" cy="364.8" r="1.5"/><circle cx="593.6" cy="349.5" r="1.5"/><circle cx="595.3" cy="375.6" r="1.5"/><circle cx="597.1" cy="407.9" r="1.5"/><circle cx="598.9" cy="424.3" r="1.5"/><circle cx="600.7" cy="428.2" r="1.5"/><circle cx="602.5" cy="427.0" r="1.5"/><circle cx="604.2" cy="426.3" r="1.5"/><circle cx="606.0" cy="425.0" r="1.5"/><circle cx="607.8" cy="425.6" r="1.5"/><circle cx="609.6" cy="424.2" r="1.5"/><circle cx="611.4" cy="423.4" r="1.5"/><circle cx="613.1" cy="422.7" r="1.5"/><circle cx="614.9" cy="418.5" r="1.5"/><circle cx="616.7" cy="415.6" r="1.5"/><circle cx="618.5" cy="411.5" r="1.5"/><circle cx="620.3" cy="408.5" r="1.5"/><circle cx="622.0" cy="408.5" r="1.5"/></g></g>
<g stroke="#ff0000" fill="none"><polyline points="111.4,404.8 113.2,404.8 115.0,406.3 116.7,406.3 118.5,406.3 120.3,406.3 122.1,406.3 123.9,406.3 125.6,406.3 127.4,406.3 129.2,406.3 131.0,406.3 132.8,406.3 134.5,406.3 136.3,405.9 138.1,405.5 139.9,404.2 141.6,403.0 143.4,401.8 145.2,400.5 147.0,399.9 148.8,399.2 150.5,399.1 152.3,398.9 154.1,398.8 155.9,399.0 157.7,399.2 159.4,399.9 161.2,400.5 163.0,401.4 164.8,402.2 166.6,403.1 168.3,404.0 170.1,404.8 171.9,405.5 173.7,406.1 175.5,406.6 177.2,407.2 179.0,407.2 180.8,407.2 182.6,407.3 184.3,407.3 186.1,407.3 187.9,407.2 189.7,407.1 191.5,407.0 193.2,406.8 195.0,406.7 196.8,406.6 198.6,406.5 200.4,406.5 202.1,406.4 203.9,406.3 205.7,406.6 207.5,406.9 209.3,407.2 211.0,408.0 212.8,408.8 214.6,409.5 216.4,410.2 218.2,410.3 219.9,409.5 221.7,407.8 223.5,406.0 225.3,404.3 227.0,402.6 228.8,401.0 230.6,399.8 232.4,398.6 234.2,397.4 235.9,397.9 237.7,398.3 239.5,398.8 241.3,399.3 243.1,399.8 244.8,400.1 246.6,400.2 248.4,400.5 250.2,401.2 252.0,401.9 253.7,402.6 255.5,403.4 257.3,404.2 259.1,405.0 260.9,405.0 262.6,405.0 264.4,405.0 266.2,405.0 268.0,405.0 269.7,405.0 271.5,405.0 273.3,405.0 275.1,405.0 276.9,405.0 278.6,405.0 280.4,405.0 282.2,405.0 284.0,405.1 285.8,405.1 287.5,405.2 289.3,405.3 291.1,405.4 292.9,405.5 294.7,405.5 296.4,405.6 298.2,405.8 300.0,406.0 301.8,406.1 303.6,406.3 305.3,404.9 307.1,403.5 308.9,402.0 310.7,400.6 312.4,399.4 314.2,398.3 316.0,397.1 317.8,396.4 319.6,395.8 321.3,395.1 323.1,395.7 324.9,396.8 326.7,396.9 328.5,397.0 330.2,398.1 332.0,399.1 333.8,400.2 335.6,401.3 337.4,402.4 339.1,403.5 340.9,404.3 342.7,405.2 344.5,406.0 346.3,406.5 348.0,406.5 349.8,406.5 351.6,406.5 353.4,406.5 355.2,406.5 356.9,406.5 358.7,406.5 360.5,406.5 362.3,406.5 364.0,406.5 365.8,406.5 367.6,406.5 369.4,406.5 371.2,406.5 372.9,406.5 374.7,406.5 376.5,406.5 378.3,406.5 380.1,406.5 381.8,406.5 383.6,406.5 385.4,406.5 387.2,406.5 389.0,406.5 390.7,405.9 392.5,404.8 394.3,403.7 396.1,402.6 397.9,401.8 399.6,401.5 401.4,401.2 403.2,400.9 405.0,400.6 406.7,401.2 408.5,401.9 410.3,402.5 412.1,403.0 413.9,403.5 415.6,403.9 417.4,404.2 419.2,404.4 421.0,404.5 422.8,404.7 424.5,404.8 426.3,405.0 428.1,405.2 429.9,405.4 431.7,405.6 433.4,405.6 435.2,405.6 437.0,405.6 438.8,405.6 440.6,405.6 442.3,405.6 444.1,405.6 445.9,405.6 447.7,405.6 449.4,405.6 451.2,405.6 453.0,405.6 454.8,405.7 456.6,405.7 458.3,405.7 460.1,405.7 461.9,405.7 463.7,405.7 465.5,405.7 467.2,405.7 469.0,405.7 470.8,405.7 472.6,405.7 474.4,405.7 476.1,405.4 477.9,404.9 479.7,404.4 481.5,404.0 483.3,403.5 485.0,401.8 486.8,400.1 488.6,399.0 490.4,398.7 492.1,398.4 493.9,398.3 495.7,398.4 497.5,398.6 499.3,398.8 501.0,399.4 502.8,399.9 504.6,400.5 506.4,401.3 508.2,402.2 509.9,403.1 511.7,404.0 513.5,405.1 515.3,406.2 517.1,407.4 518.8,408.1 520.6,408.7 522.4,409.3 524.2,409.7 526.0,410.0 527.7,410.4 529.5,410.6 531.3,410.8 533.1,411.0 534.8,411.2 536.6,411.4 538.4,411.6 540.2,411.8 542.0,411.7 543.7,411.7 545.5,411.6 547.3,411.5 549.1,411.4 550.9,411.3 552.6,411.3 554.4,411.3 556.2,411.3 558.0,411.3 559.8,411.3 561.5,410.4 563.3,408.1 565.1,405.8 566.9,403.6 568.7,401.6 570.4,399.6 572.2,397.7 574.0,396.3 575.8,394.9 577.6,393.5 579.3,395.0 581.1,397.0 582.9,397.9 584.7,397.8 586.4,397.5 588.2,398.2 590.0,399.0 591.8,400.1 593.6,401.3 595.3,402.5 597.1,403.8 598.9,404.8 600.7,405.6 602.5,406.1 604.2,406.5 606.0,407.0 607.8,406.9 609.6,406.9 611.4,406.8 613.1,406.5 614.9,406.2 616.7,405.8 618.5,405.4 620.3,405.1 622.0,404.8" stroke-width="0.4"/>
<g stroke-width="0.75"><circle cx="111.4" cy="404.8" r="1.5"/><circle cx="113.2" cy="404.8" r="1.5"/><circle cx="115.0" cy="406.3" r="1.5"/><circle cx="116.7" cy="406.3" r="1.5"/><circle cx="118.5" cy="406.3" r="1.5"/><circle cx="120.3" cy="406.3" r="1.5"/><circle cx="122.1" cy="406.3" r="1.5"/><circle cx="123.9" cy="406.3" r="1.5"/><circle cx="125.6" cy="406.3" r="1.5"/><circle cx="127.4" cy="406.3" r="1.5"/><circle cx="129.2" cy="406.3" r="1.5"/><circle cx="131.0" cy="406.3" r="1.5"/><circle cx="132.8" cy="406.3" r="1.5"/><circle cx="134.5" cy="406.3" r="1.5"/><circle cx="136.3" cy="405.9" r="1.5"/><circle cx="138.1" cy="405.5" r="1.5"/><circle cx="139.9" cy="404.2" r="1.5"/><circle cx="141.6" cy="403.0" r="1.5"/><circle cx="143.4" cy="401.8" r="1.5"/><circle cx="145.2" cy="400.5" r="1.5"/><circle cx="147.0" cy="399.9" r="1.5"/><circle cx="148.8" cy="399.2" r="1.5"/><circle cx="150.5" cy="399.1" r="1.5"/><circle cx="152.3" cy="398.9" r="1.5"/><circle cx="154.1" cy="398.8" r="1.5"/><circle cx="155.9" cy="399.0" r="1.5"/><circle cx="157.7" cy="399.2" r="1.5"/><circle cx="159.4" cy="399.9" r="1.5"/><circle cx="161.2" cy="400.5" r="1.5"/><circle cx="163.0" cy="401.4" r="1.5"/><circle cx="164.8" cy="402.2" r="1.5"/><circle cx="166.6" cy="403.1" r="1.5"/><circle cx="168.3" cy="404.0" r="1.5"/><circle cx="170.1" cy="404.8" r="1.5"/><circle cx="171.9" cy="405.5" r="1.5"/><circle cx="173.7" cy="406.1" r="1.5"/><circle cx="175.5" cy="406.6" r="1.5"/><circle cx="177.2" cy="407.2" r="1.5"/><circle cx="179.0" cy="407.2" r="1.5"/><circle cx="180.8" cy="407.2" r="1.5"/><circle cx="182.6" cy="407.3" r="1.5"/><circle cx="184.3" cy="407.3" r="1.5"/><circle cx="186.1" cy="407.3" r="1.5"/><circle cx="187.9" cy="407.2" r="1.5"/><circle cx="189.7" cy="407.1" r="1.5"/><circle cx="191.5" cy="407.0" r="1.5"/><circle cx="193.2" cy="406.8" r="1.5"/><circle cx="195.0" cy="406.7" r="1.5"/><circle cx="196.8" cy="406.6" r="1.5"/><circle cx="198.6" cy="406.5" r="1.5"/><circle cx="200.4" cy="406.5" r="1.5"/><circle cx="202.1" cy="406.4" r="1.5"/><circle cx="203.9" cy="406.3" r="1.5"/><circle cx="205.7" cy="406.6" r="1.5"/><circle cx="207.5" cy="406.9" r="1.5"/><circle cx="209.3" cy="407.2" r="1.5"/><circle cx="211.0" cy="408.0" r="1.5"/><circle cx="212.8" cy="408.8" r="1.5"/><circle cx="214.6" cy="409.5" r="1.5"/><circle cx="216.4" cy="410.2" r="1.5"/><circle cx="218.2" cy="410.3" r="1.5"/><circle cx="219.9" cy="409.5" r="1.5"/><circle cx="221.7" cy="407.8" r="1.5"/><circle cx="223.5" cy="406.0" r="1.5"/><circle cx="225.3" cy="404.3" r="1.5"/><circle cx="227.0" cy="402.6" r="1.5"/><circle cx="228.8" cy="401.0" r="1.5"/><circle cx="230.6" cy="399.8" r="1.5"/><circle cx="232.4" cy="398.6" r="1.5"/><circle cx="234.2" cy="397.4" r="1.5"/><circle cx="235.9" cy="397.9" r="1.5"/><circle cx="237.7" cy="398.3" r="1.5"/><circle cx="239.5" cy="398.8" r="1.5"/><circle cx="241.3" cy="399.3" r="1.5"/><circle cx="243.1" cy="399.8" r="1.5"/><circle cx="244.8" cy="400.1" r="1.5"/><circle cx="246.6" cy="400.2" r="1.5"/><circle cx="248.4" cy="400.5" r="1.5"/><circle cx="250.2" cy="401.2" r="1.5"/><circle cx="252.0" cy="401.9" r="1.5"/><circle cx="253.7" cy="402.6" r="1.5"/><circle cx="255.5" cy="403.4" r="1.5"/><circle cx="257.3" cy="404.2" r="1.5"/><circle cx="259.1" cy="405.0" r="1.5"/><circle cx="260.9" cy="405.0" r="1.5"/><circle cx="262.6" cy="405.0" r="1.5"/><circle cx="264.4" cy="405.0" r="1.5"/><circle cx="266.2" cy="405.0" r="1.5"/><circle cx="268.0" cy="405.0" r="1.5"/><circle cx="269.7" cy="405.0" r="1.5"/><circle cx="271.5" cy="405.0" r="1.5"/><circle cx="273.3" cy="405.0" r="1.5"/><circle cx="275.1" cy="405.0" r="1.5"/><circle cx="276.9" cy="405.0" r="1.5"/><circle cx="278.6" cy="405.0" r="1.5"/><circle cx="280.4" cy="405.0" r="1.5"/><circle cx="282.2" cy="405.0" r="1.5"/><circle cx="284.0" cy="405.1" r="1.5"/><circle cx="285.8" cy="405.1" r="1.5"/><circle cx="287.5" cy="405.2" r="1.5"/><circle cx="289.3" cy="405.3" r="1.5"/><circle cx="291.1" cy="405.4" r="1.5"/><circle cx="292.9" cy="405.5" r="1.5"/><circle cx="294.7" cy="405.5" r="1.5"/><circle cx="296.4" cy="405.6" r="1.5"/><circle cx="298.2" cy="405.8" r="1.5"/><circle cx="300.0" cy="406.0" r="1.5"/><circle cx="301.8" cy="406.1" r="1.5"/><circle cx="303.6" cy="406.3" r="1.5"/><circle cx="305.3" cy="404.9" r="1.5"/><circle cx="307.1" cy="403.5" r="1.5"/><circle cx="308.9" cy="402.0" r="1.5"/><circle cx="310.7" cy="400.6" r="1.5"/><circle cx="312.4" cy="399.4" r="1.5"/><circle cx="314.2" cy="398.3" r="1.5"/><circle cx="316.0" cy="397.1" r="1.5"/><circle cx="317.8" cy="396.4" r="1.5"/><circle cx="319.6" cy="395.8" r="1.5"/><circle cx="321.3" cy="395.1" r="1.5"/><circle cx="323.1" cy="395.7" r="1.5"/><circle cx="324.9" cy="396.8" r="1.5"/><circle cx="326.7" cy="396.9" r="1.5"/><circle cx="328.5" cy="397.0" r="1.5"/><circle cx="330.2" cy="398.1" r="1.5"/><circle cx="332.0" cy="399.1" r="1.5"/><circle cx="333.8" cy="400.2" r="1.5"/><circle cx="335.6" cy="401.3" r="1.5"/><circle cx="337.4" cy="402.4" r="1.5"/><circle cx="339.1" cy="403.5" r="1.5"/><circle cx="340.9" cy="404.3" r="1.5"/><circle cx="342.7" cy="405.2" r="1.5"/><circle cx="344.5" cy="406.0" r="1.5"/><circle cx="346.3" cy="406.5" r="1.5"/><circle cx="348.0" cy="406.5" r="1.5"/><circle cx="349.8" cy="406.5" r="1.5"/><circle cx="351.6" cy="406.5" r="1.5"/><circle cx="353.4" cy="406.5" r="1.5"/><circle cx="355.2" cy="406.5" r="1.5"/><circle cx="356.9" cy="406.5" r="1.5"/><circle cx="358.7" cy="406.5" r="1.5"/><circle cx="360.5" cy="406.5" r="1.5"/><circle cx="362.3" cy="406.5" r="1.5"/><circle cx="364.0" cy="406.5" r="1.5"/><circle cx="365.8" cy="406.5" r="1.5"/><circle cx="367.6" cy="406.5" r="1.5"/><circle cx="369.4" cy="406.5" r="1.5"/><circle cx="371.2" cy="406.5" r="1.5"/><circle cx="372.9" cy="406.5" r="1.5"/><circle cx="374.7" cy="406.5" r="1.5"/><circle cx="376.5" cy="406.5" r="1.5"/><circle cx="378.3" cy="406.5" r="1.5"/><circle cx="380.1" cy="406.5" r="1.5"/><circle cx="381.8" cy="406.5" r="1.5"/><circle cx="383.6" cy="406.5" r="1.5"/><circle cx="385.4" cy="406.5" r="1.5"/><circle cx="387.2" cy="406.5" r="1.5"/><circle cx="389.0" cy="406.5" r="1.5"/><circle cx="390.7" cy="405.9" r="1.5"/><circle cx="392.5" cy="404.8" r="1.5"/><circle cx="394.3" cy="403.7" r="1.5"/><circle cx="396.1" cy="402.6" r="1.5"/><circle cx="397.9" cy="401.8" r="1.5"/><circle cx="399.6" cy="401.5" r="1.5"/><circle cx="401.4" cy="401.2" r="1.5"/><circle cx="403.2" cy="400.9" r="1.5"/><circle cx="405.0" cy="400.6" r="1.5"/><circle cx="406.7" cy="401.2" r="1.5"/><circle cx="408.5" cy="401.9" r="1.5"/><circle cx="410.3" cy="402.5" r="1.5"/><circle cx="412.1" cy="403.0" r="1.5"/><circle cx="413.9" cy="403.5" r="1.5"/><circle cx="415.6" cy="403.9" r="1.5"/><circle cx="417.4" cy="404.2" r="1.5"/><circle cx="419.2" cy="404.4" r="1.5"/><circle cx="421.0" cy="404.5" r="1.5"/><circle cx="422.8" cy="404.7" r="1.5"/><circle cx="424.5" cy="404.8" r="1.5"/><circle cx="426.3" cy="405.0" r="1.5"/><circle cx="428.1" cy="405.2" r="1.5"/><circle cx="429.9" cy="405.4" r="1.5"/><circle cx="431.7" cy="405.6" r="1.5"/><circle cx="433.4" cy="405.6" r="1.5"/><circle cx="435.2" cy="405.6" r="1.5"/><circle cx="437.0" cy="405.6" r="1.5"/><circle cx="438.8" cy="405.6" r="1.5"/><circle cx="440.6" cy="405.6" r="1.5"/><circle cx="442.3" cy="405.6" r="1.5"/><circle cx="444.1" cy="405.6" r="1.5"/><circle cx="445.9" cy="405.6" r="1.5"/><circle cx="447.7" cy="405.6" r="1.5"/><circle cx="449.4" cy="405.6" r="1.5"/><circle cx="451.2" cy="405.6" r="1.5"/><circle cx="453.0" cy="405.6" r="1.5"/><circle cx="454.8" cy="405.7" r="1.5"/><circle cx="456.6" cy="405.7" r="1.5"/><circle cx="458.3" cy="405.7" r="1.5"/><circle cx="460.1" cy="405.7" r="1.5"/><circle cx="461.9" cy="405.7" r="1.5"/><circle cx="463.7" cy="405.7" r="1.5"/><circle cx="465.5" cy="405.7" r="1.5"/><circle cx="467.2" cy="405.7" r="1.5"/><circle cx="469.0" cy="405.7" r="1.5"/><circle cx="470.8" cy="405.7" r="1.5"/><circle cx="472.6" cy="405.7" r="1.5"/><circle cx="474.4" cy="405.7" r="1.5"/><circle cx="476.1" cy="405.4" r="1.5"/><circle cx="477.9" cy="404.9" r="1.5"/><circle cx="479.7" cy="404.4" r="1.5"/><circle cx="481.5" cy="404.0" r="1.5"/><circle cx="483.3" cy="403.5" r="1.5"/><circle cx="485.0" cy="401.8" r="1.5"/><circle cx="486.8" cy="400.1" r="1.5"/><circle cx="488.6" cy="399.0" r="1.5"/><circle cx="490.4" cy="398.7" r="1.5"/><circle cx="492.1" cy="398.4" r="1.5"/><circle cx="493.9" cy="398.3" r="1.5"/><circle cx="495.7" cy="398.4" r="1.5"/><circle cx="497.5" cy="398.6" r="1.5"/><circle cx="499.3" cy="398.8" r="1.5"/><circle cx="501.0" cy="399.4" r="1.5"/><circle cx="502.8" cy="399.9" r="1.5"/><circle cx="504.6" cy="400.5" r="1.5"/><circle cx="506.4" cy="401.3" r="1.5"/><circle cx="508.2" cy="402.2" r="1.5"/><circle cx="509.9" cy="403.1" r="1.5"/><circle cx="511.7" cy="404.0" r="1.5"/><circle cx="513.5" cy="405.1" r="1.5"/><circle cx="515.3" cy="406.2" r="1.5"/><circle cx="517.1" cy="407.4" r="1.5"/><circle cx="518.8" cy="408.1" r="1.5"/><circle cx="520.6" cy="408.7" r="1.5"/><circle cx="522.4" cy="409.3" r="1.5"/><circle cx="524.2" cy="409.7" r="1.5"/><circle cx="526.0" cy="410.0" r="1.5"/><circle cx="527.7" cy="410.4" r="1.5"/><circle cx="529.5" cy="410.6" r="1.5"/><circle cx="531.3" cy="410.8" r="1.5"/><circle cx="533.1" cy="411.0" r="1.5"/><circle cx="534.8" cy="411.2" r="1.5"/><circle cx="536.6" cy="411.4" r="1.5"/><circle cx="538.4" cy="411.6" r="1.5"/><circle cx="540.2" cy="411.8" r="1.5"/><circle cx="542.0" cy="411.7" r="1.5"/><circle cx="543.7" cy="411.7" r="1.5"/><circle cx="545.5" cy="411.6" r="1.5"/><circle cx="547.3" cy="411.5" r="1.5"/><circle cx="549.1" cy="411.4" r="1.5"/><circle cx="550.9" cy="411.3" r="1.5"/><circle cx="552.6" cy="411.3" r="1.5"/><circle cx="554.4" cy="411.3" r="1.5"/><circle cx="556.2" cy="411.3" r="1.5"/><circle cx="558.0" cy="411.3" r="1.5"/><circle cx="559.8" cy="411.3" r="1.5"/><circle cx="561.5" cy="410.4" r="1.5"/><circle cx="563.3" cy="408.1" r="1.5"/><circle cx="565.1" cy="405.8" r="1.5"/><circle cx="566.9" cy="403.6" r="1.5"/><circle cx="568.7" cy="401.6" r="1.5"/><circle cx="570.4" cy="399.6" r="1.5"/><circle cx="572.2" cy="397.7" r="1.5"/><circle cx="574.0" cy="396.3" r="1.5"/><circle cx="575.8" cy="394.9" r="1.5"/><circle cx="577.6" cy="393.5" r="1.5"/><circle cx="579.3" cy="395.0" r="1.5"/><circle cx="581.1" cy="397.0" r="1.5"/><circle cx="582.9" cy="397.9" r="1.5"/><circle cx="584.7" cy="397.8" r="1.5"/><circle cx="586.4" cy="397.5" r="1.5"/><circle cx="588.2" cy="398.2" r="1.5"/><circle cx="590.0" cy="399.0" r="1.5"/><circle cx="591.8" cy="400.1" r="1.5"/><circle cx="593.6" cy="401.3" r="1.5"/><circle cx="595.3" cy="402.5" r="1.5"/><circle cx="597.1" cy="403.8" r="1.5"/><circle cx="598.9" cy="404.8" r="1.5"/><circle cx="600.7" cy="405.6" r="1.5"/><circle cx="602.5" cy="406.1" r="1.5"/><circle cx="604.2" cy="406.5" r="1.5"/><circle cx="606.0" cy="407.0" r="1.5"/><circle cx="607.8" cy="406.9" r="1.5"/><circle cx="609.6" cy="406.9" r="1.5"/><circle cx="611.4" cy="406.8" r="1.5"/><circle cx="613.1" cy="406.5" r="1.5"/><circle cx="614.9" cy="406.2" r="1.5"/><circle cx="616.7" cy="405.8" r="1.5"/><circle cx="618.5" cy="405.4" r="1.5"/><circle cx="620.3" cy="405.1" r="1.5"/><circle cx="622.0" cy="404.8" r="1.5"/></g></g>
</g>
<g stroke="#000" fill="none">
<line x1="196.9" y1="481.45" x2="196.9" y2="487.84999999999997" stroke-width="1"/><line x1="196.9" y1="84.8" x2="196.9" y2="78.39999999999999" stroke-width="1"/>
<line x1="282.3" y1="481.45" x2="282.3" y2="487.84999999999997" stroke-width="1"/><line x1="282.3" y1="84.8" x2="282.3" y2="78.39999999999999" stroke-width="1"/>
<line x1="367.7" y1="481.45" x2="367.7" y2="487.84999999999997" stroke-width="1"/><line x1="367.7" y1="84.8" x2="367.7" y2="78.39999999999999" stroke-width="1"/>
<line x1="453.1" y1="481.45" x2="453.1" y2="487.84999999999997" stroke-width="1"/><line x1="453.1" y1="84.8" x2="453.1" y2="78.39999999999999" stroke-width="1"/>
<line x1="538.5" y1="481.45" x2="538.5" y2="487.84999999999997" stroke-width="1"/><line x1="538.5" y1="84.8" x2="538.5" y2="78.39999999999999" stroke-width="1"/>
<line x1="132.85" y1="481.45" x2="132.85" y2="484.84999999999997" stroke-width="0.55"/><line x1="132.85" y1="84.8" x2="132.85" y2="81.39999999999999" stroke-width="0.55"/>
<line x1="154.20" y1="481.45" x2="154.20" y2="484.84999999999997" stroke-width="0.55"/><line x1="154.20" y1="84.8" x2="154.20" y2="81.39999999999999" stroke-width="0.55"/>
<line x1="175.55" y1="481.45" x2="175.55" y2="484.84999999999997" stroke-width="0.55"/><line x1="175.55" y1="84.8" x2="175.55" y2="81.39999999999999" stroke-width="0.55"/>
<line x1="218.25" y1="481.45" x2="218.25" y2="484.84999999999997" stroke-width="0.55"/><line x1="218.25" y1="84.8" x2="218.25" y2="81.39999999999999" stroke-width="0.55"/>
<line x1="239.60" y1="481.45" x2="239.60" y2="484.84999999999997" stroke-width="0.55"/><line x1="239.60" y1="84.8" x2="239.60" y2="81.39999999999999" stroke-width="0.55"/>
<line x1="260.95" y1="481.45" x2="260.95" y2="484.84999999999997" stroke-width="0.55"/><line x1="260.95" y1="84.8" x2="260.95" y2="81.39999999999999" stroke-width="0.55"/>
<line x1="303.65" y1="481.45" x2="303.65" y2="484.84999999999997" stroke-width="0.55"/><line x1="303.65" y1="84.8" x2="303.65" y2="81.39999999999999" stroke-width="0.55"/>
<line x1="325.00" y1="481.45" x2="325.00" y2="484.84999999999997" stroke-width="0.55"/><line x1="325.00" y1="84.8" x2="325.00" y2="81.39999999999999" stroke-width="0.55"/>
<line x1="346.35" y1="481.45" x2="346.35" y2="484.84999999999997" stroke-width="0.55"/><line x1="346.35" y1="84.8" x2="346.35" y2="81.39999999999999" stroke-width="0.55"/>
<line x1="389.05" y1="481.45" x2="389.05" y2="484.84999999999997" stroke-width="0.55"/><line x1="389.05" y1="84.8" x2="389.05" y2="81.39999999999999" stroke-width="0.55"/>
<line x1="410.40" y1="481.45" x2="410.40" y2="484.84999999999997" stroke-width="0.55"/><line x1="410.40" y1="84.8" x2="410.40" y2="81.39999999999999" stroke-width="0.55"/>
<line x1="431.75" y1="481.45" x2="431.75" y2="484.84999999999997" stroke-width="0.55"/><line x1="431.75" y1="84.8" x2="431.75" y2="81.39999999999999" stroke-width="0.55"/>
<line x1="474.45" y1="481.45" x2="474.45" y2="484.84999999999997" stroke-width="0.55"/><line x1="474.45" y1="84.8" x2="474.45" y2="81.39999999999999" stroke-width="0.55"/>
<line x1="495.80" y1="481.45" x2="495.80" y2="484.84999999999997" stroke-width="0.55"/><line x1="495.80" y1="84.8" x2="495.80" y2="81.39999999999999" stroke-width="0.55"/>
<line x1="517.15" y1="481.45" x2="517.15" y2="484.84999999999997" stroke-width="0.55"/><line x1="517.15" y1="84.8" x2="517.15" y2="81.39999999999999" stroke-width="0.55"/>
<line x1="559.85" y1="481.45" x2="559.85" y2="484.84999999999997" stroke-width="0.55"/><line x1="559.85" y1="84.8" x2="559.85" y2="81.39999999999999" stroke-width="0.55"/>
<line x1="581.20" y1="481.45" x2="581.20" y2="484.84999999999997" stroke-width="0.55"/><line x1="581.20" y1="84.8" x2="581.20" y2="81.39999999999999" stroke-width="0.55"/>
<line x1="602.55" y1="481.45" x2="602.55" y2="484.84999999999997" stroke-width="0.55"/><line x1="602.55" y1="84.8" x2="602.55" y2="81.39999999999999" stroke-width="0.55"/>
<line x1="113.5" y1="84.50" x2="107.1" y2="84.50" stroke-width="1"/><line x1="623.5" y1="84.50" x2="629.9" y2="84.50" stroke-width="1"/>
<line x1="113.5" y1="124.53" x2="110.1" y2="124.53" stroke-width="0.55"/><line x1="623.5" y1="124.53" x2="626.9" y2="124.53" stroke-width="0.55"/>
<line x1="113.5" y1="164.21" x2="107.1" y2="164.21" stroke-width="1"/><line x1="623.5" y1="164.21" x2="629.9" y2="164.21" stroke-width="1"/>
<line x1="113.5" y1="203.90" x2="110.1" y2="203.90" stroke-width="0.55"/><line x1="623.5" y1="203.90" x2="626.9" y2="203.90" stroke-width="0.55"/>
<line x1="113.5" y1="243.58" x2="107.1" y2="243.58" stroke-width="1"/><line x1="623.5" y1="243.58" x2="629.9" y2="243.58" stroke-width="1"/>
<line x1="113.5" y1="283.26" x2="110.1" y2="283.26" stroke-width="0.55"/><line x1="623.5" y1="283.26" x2="626.9" y2="283.26" stroke-width="0.55"/>
<line x1="113.5" y1="322.95" x2="107.1" y2="322.95" stroke-width="1"/><line x1="623.5" y1="322.95" x2="629.9" y2="322.95" stroke-width="1"/>
<line x1="113.5" y1="362.63" x2="110.1" y2="362.63" stroke-width="0.55"/><line x1="623.5" y1="362.63" x2="626.9" y2="362.63" stroke-width="0.55"/>
<line x1="113.5" y1="402.32" x2="107.1" y2="402.32" stroke-width="1"/><line x1="623.5" y1="402.32" x2="629.9" y2="402.32" stroke-width="1"/>
<line x1="113.5" y1="442.00" x2="110.1" y2="442.00" stroke-width="0.55"/><line x1="623.5" y1="442.00" x2="626.9" y2="442.00" stroke-width="0.55"/>
<line x1="113.5" y1="481.50" x2="107.1" y2="481.50" stroke-width="1"/><line x1="623.5" y1="481.50" x2="629.9" y2="481.50" stroke-width="1"/>
<rect x="113.5" y="84.8" width="510.0" height="396.65" stroke-width="1.4"/>
</g>
<text x="369" y="46.5" font-size="35.7" text-anchor="middle" stroke-width="0.5">Radiation / 2007-10-18</text>
<text x="88" y="69.8" font-size="18">[W/m<tspan font-size="12.6" dy="-6.5">2</tspan><tspan dy="6.5">]</tspan></text>
<text x="103.5" y="91.4" font-size="20" text-anchor="end">800</text>
<text x="103.5" y="170.7" font-size="20" text-anchor="end">600</text>
<text x="103.5" y="250.1" font-size="20" text-anchor="end">400</text>
<text x="103.5" y="329.4" font-size="20" text-anchor="end">200</text>
<text x="103.5" y="408.7" font-size="20" text-anchor="end">0</text>
<text x="103.5" y="488.1" font-size="20" text-anchor="end">-200</text>
<text x="197.70000000000002" y="507.7" font-size="20" text-anchor="middle">00:00</text>
<text x="283.1" y="507.7" font-size="20" text-anchor="middle">00:00</text>
<text x="368.5" y="507.7" font-size="20" text-anchor="middle">00:00</text>
<text x="453.90000000000003" y="507.7" font-size="20" text-anchor="middle">00:00</text>
<text x="539.3" y="507.7" font-size="20" text-anchor="middle">00:00</text>
<text x="155.5" y="527.4" font-size="20" text-anchor="middle">Oct-13</text>
<text x="239.9" y="527.4" font-size="20" text-anchor="middle">Oct-14</text>
<text x="325.3" y="527.4" font-size="20" text-anchor="middle">Oct-15</text>
<text x="410.7" y="527.4" font-size="20" text-anchor="middle">Oct-16</text>
<text x="496.1" y="527.4" font-size="20" text-anchor="middle">Oct-17</text>
<text x="581.3" y="527.4" font-size="20" text-anchor="middle">Oct-18</text>
<text x="370" y="551.3" font-size="24" text-anchor="middle">(LST)</text>
<rect x="637.7" y="396.8" width="184.3" height="84.4" fill="#fff" stroke="#000" stroke-width="1.3"/>
<g stroke="#ff0000" fill="none"><line x1="643.5" y1="410.7" x2="654.5" y2="410.7" stroke-width="0.4"/><circle cx="649" cy="410.7" r="1.5" stroke-width="0.65" fill="#fff"/></g>
<text x="660" y="415.9" font-size="18">Soil Heat Flux</text>
<g stroke="#00ff00" fill="none"><line x1="643.5" y1="439.2" x2="654.5" y2="439.2" stroke-width="0.4"/><circle cx="649" cy="439.2" r="1.5" stroke-width="0.65" fill="#fff"/></g>
<text x="660" y="444.7" font-size="18">Net Radiation</text>
<g stroke="#0000ff" fill="none"><line x1="643.5" y1="467.2" x2="654.5" y2="467.2" stroke-width="0.4"/><circle cx="649" cy="467.2" r="1.5" stroke-width="0.65" fill="#fff"/></g>
<text x="660" y="472.9" font-size="18">Shortwave Radiation</text>
<text x="779.5" y="533.2" font-size="12" text-anchor="end" letter-spacing="0.14" stroke-width="0">©TERC, Univ. Tsukuba</text>
<g font-size="14" text-anchor="end" stroke-width="0">
<text x="823" y="550">Observed at TERC Tower site</text>
<text x="823" y="566.8">Created Automatically at 2007-10-18/23:32:07</text>
<text x="823" y="584.2">Data source : /home/hojyo/new/TERC-data/sorted_data/MET.30m.dat</text>
</g>
<g transform="translate(785,503.9)">
<rect width="34.1" height="34" rx="0.8" fill="#0a5aee"/>
<path d="M11,-0.2 C11.2,3.6 13,5.9 15.2,5.9 L18.9,5.9 C21.1,5.9 22.9,3.6 23.1,-0.2 Z" fill="#fff"/>
<path d="M17.1,8 C16.4,11 14,12.8 14,15.2 A3.1,3 0 0 0 20.2,15.2 C20.2,12.8 17.8,11 17.1,8 Z" fill="#fff"/>
<path d="M0,11.1 A18.9,18.9 0 0 0 34.1,11.1" fill="none" stroke="#fff" stroke-width="1"/>
<path d="M0,16.3 A22.1,22.1 0 0 0 34.1,16.3" fill="none" stroke="#fff" stroke-width="1"/>
<text x="3.75 12.1 22 30.4" y="33" font-size="8.3" font-weight="bold" text-anchor="middle" style="font-family:'Liberation Sans',sans-serif;fill:#fff;stroke:none">TERC</text>
</g>
</svg></body></html>
